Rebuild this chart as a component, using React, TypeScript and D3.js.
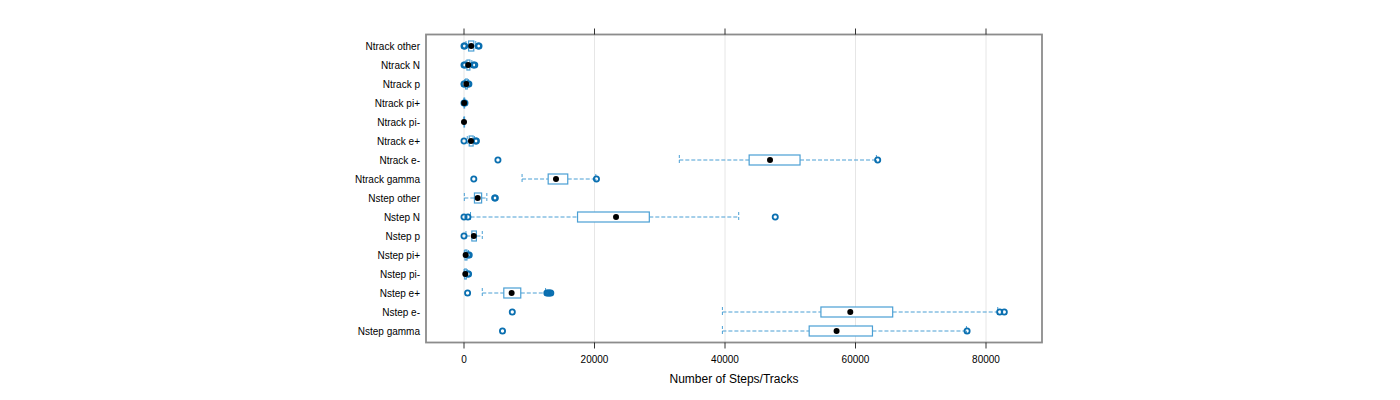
import React from "react";
import * as d3 from "d3";

const categories = [
  "Ntrack other", "Ntrack N", "Ntrack p", "Ntrack pi+", "Ntrack pi-", "Ntrack e+", "Ntrack e-", "Ntrack gamma",
  "Nstep other", "Nstep N", "Nstep p", "Nstep pi+", "Nstep pi-", "Nstep e+", "Nstep e-", "Nstep gamma",
];
const whiskerLow = [300, 300, 100, 0, 0, 500, 33000, 8900, 50, 1000, 300, 50, 0, 2800, 39600, 39600];
const q1 = [700, 450, 250, 10, 0, 800, 43700, 12900, 1600, 17400, 1200, 150, 100, 6100, 54700, 52900];
const medians = [1100, 650, 350, 30, 0, 1070, 46900, 14100, 2100, 23300, 1500, 250, 200, 7300, 59200, 57100];
const q3 = [1500, 900, 500, 60, 10, 1400, 51500, 15900, 2700, 28400, 1900, 450, 350, 8700, 65700, 62600];
const whiskerHigh = [1800, 1200, 700, 100, 20, 1600, 63200, 20200, 3500, 42100, 2800, 700, 500, 12500, 81800, 77000];
const outliers: number[][] = [
  [0, 100, 2200, 2300],
  [0, 150, 1450, 1650],
  [0, 50, 600, 750],
  [0, 150],
  [],
  [0, 1800, 1900],
  [5200, 63400],
  [1500, 20300],
  [4700, 4800],
  [0, 600, 47700],
  [0],
  [600, 800],
  [600, 700],
  [550, 12700, 12900, 13100, 13300],
  [7400, 82100, 82800],
  [5900, 77100],
];
const xTicks = [0, 20000, 40000, 60000, 80000];
const xTitle = "Number of Steps/Tracks";

const frame = { left: 426, right: 1042, top: 34.5, bottom: 342.5 };
const boxColor = "#4a9fd4";
const outColor = "#0a6fb0";

export default function App() {
  const x = d3.scaleLinear().domain([-5824, 88582]).range([frame.left, frame.right]);
  const y = d3.scalePoint<string>().domain(categories).range([46, 331]);
  const bh = 10;
  return (
    <svg width={1400} height={400} style={{ position: "absolute", left: 0, top: 0 }}
      fontFamily="Liberation Sans, Arial, sans-serif">
      {xTicks.map((t) => (
        <line key={"g" + t} x1={x(t)} x2={x(t)} y1={frame.top} y2={frame.bottom} stroke="#e6e6e6" strokeWidth={1} />
      ))}
      {categories.map((c, i) => {
        const cy = y(c)!;
        return (
          <g key={c}>
            <line x1={x(whiskerLow[i])} x2={x(q1[i])} y1={cy} y2={cy} stroke={boxColor} strokeDasharray="4,2" />
            <line x1={x(q3[i])} x2={x(whiskerHigh[i])} y1={cy} y2={cy} stroke={boxColor} strokeDasharray="4,2" />
            <line x1={x(whiskerLow[i])} x2={x(whiskerLow[i])} y1={cy - bh / 2} y2={cy + bh / 2} stroke={boxColor} strokeDasharray="3,2" />
            <line x1={x(whiskerHigh[i])} x2={x(whiskerHigh[i])} y1={cy - bh / 2} y2={cy + bh / 2} stroke={boxColor} strokeDasharray="3,2" />
            <rect x={x(q1[i])} y={cy - bh / 2} width={Math.max(0.5, x(q3[i]) - x(q1[i]))} height={bh}
              fill="white" stroke={boxColor} strokeWidth={1.2} />
            {outliers[i].map((o, j) => (
              <circle key={j} cx={x(o)} cy={cy} r={2.6} fill="none" stroke={outColor} strokeWidth={1.8} />
            ))}
            <circle cx={x(medians[i])} cy={cy} r={3} fill="black" />
            <text x={420} y={cy} textAnchor="end" dominantBaseline="central" fontSize={10} fill="#000">{c}</text>
          </g>
        );
      })}
      <rect x={frame.left} y={frame.top} width={frame.right - frame.left} height={frame.bottom - frame.top}
        fill="none" stroke="#8c8c8c" strokeWidth={1.8} />
      {xTicks.map((t) => (
        <g key={"t" + t}>
          <line x1={x(t)} x2={x(t)} y1={frame.top - 6} y2={frame.top} stroke="#000" strokeWidth={0.8} />
          <line x1={x(t)} x2={x(t)} y1={frame.bottom} y2={frame.bottom + 6} stroke="#000" strokeWidth={0.8} />
          <text x={x(t)} y={359} textAnchor="middle" dominantBaseline="central" fontSize={10} fill="#000">{t}</text>
        </g>
      ))}
      <text x={(frame.left + frame.right) / 2} y={379} textAnchor="middle" dominantBaseline="central" fontSize={12} fill="#000">{xTitle}</text>
    </svg>
  );
}
